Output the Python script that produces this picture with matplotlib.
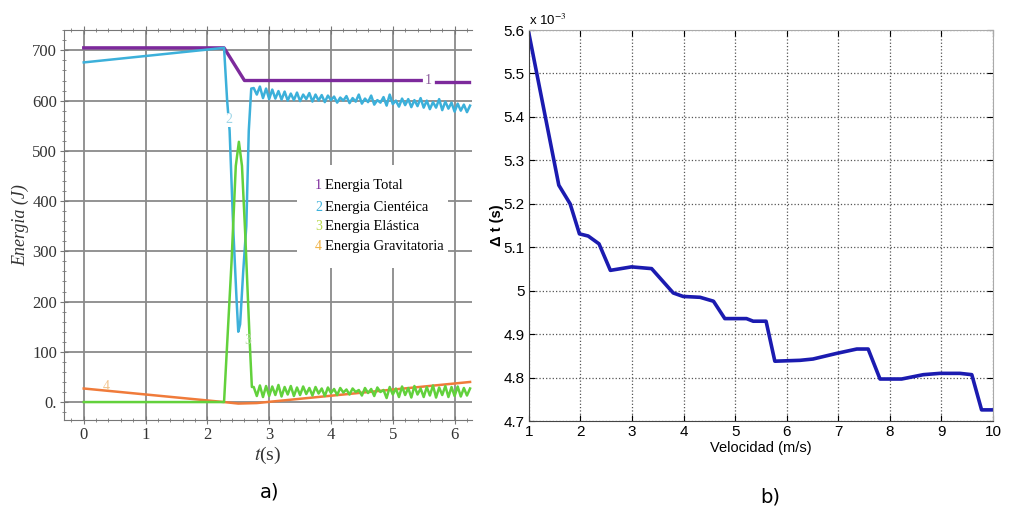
import matplotlib
matplotlib.use("Agg")
from matplotlib import pyplot as plt
from matplotlib.patches import Rectangle
from matplotlib.ticker import MultipleLocator

plt.rcParams['mathtext.fontset'] = 'stix'

# ---- panel a) energies vs time ----
t_total = [0, 2.27, 2.6, 5.46]
e_total = [705, 705, 640, 640]
t_total_end = [5.7, 6.23]
e_total_end = [638, 638]

t_kin = [0, 2.27, 2.32, 2.36, 2.42, 2.47, 2.5, 2.53, 2.58, 2.63, 2.67, 2.71,
         2.75, 2.80, 2.85, 2.90, 2.95, 3.00, 3.05, 3.10, 3.15, 3.20, 3.25, 3.30,
         3.35, 3.40, 3.45, 3.50, 3.55, 3.60, 3.65, 3.70, 3.75, 3.80, 3.85, 3.90,
         3.95, 4.00, 4.05, 4.10, 4.15, 4.20, 4.25, 4.30, 4.35, 4.40, 4.45, 4.50,
         4.55, 4.60, 4.65, 4.70, 4.75, 4.80, 4.85, 4.90, 4.95, 5.00, 5.05, 5.10,
         5.15, 5.20, 5.25, 5.30, 5.35, 5.40, 5.45, 5.50, 5.55, 5.60, 5.65, 5.70,
         5.75, 5.80, 5.85, 5.90, 5.95, 6.00, 6.05, 6.10, 6.15, 6.20, 6.25]
e_kin = [676, 705, 600, 540, 342, 210, 140, 155, 260, 350, 540, 624,
         625, 612, 628, 605, 624, 603, 622, 604, 619, 602, 618, 600,
         614, 601, 616, 599, 612, 603, 615, 598, 612, 600, 611, 597,
         610, 601, 608, 596, 606, 600, 609, 595, 605, 598, 612, 594,
         604, 597, 610, 592, 601, 596, 607, 590, 612, 593, 600, 588,
         604, 591, 603, 587, 601, 589, 605, 586, 600, 583, 597, 586,
         603, 581, 598, 584, 596, 578, 594, 580, 592, 577, 590]

t_ela = [0, 2.27, 2.39, 2.46, 2.51, 2.56, 2.61, 2.69, 2.72,
         2.75, 2.80, 2.85, 2.90, 2.95, 3.00, 3.05, 3.10, 3.15, 3.20, 3.25, 3.30,
         3.35, 3.40, 3.45, 3.50, 3.55, 3.60, 3.65, 3.70, 3.75, 3.80, 3.85, 3.90,
         3.95, 4.00, 4.05, 4.10, 4.15, 4.20, 4.25, 4.30, 4.35, 4.40, 4.45, 4.50,
         4.55, 4.60, 4.65, 4.70, 4.75, 4.80, 4.85, 4.90, 4.95, 5.00, 5.05, 5.10,
         5.15, 5.20, 5.25, 5.30, 5.35, 5.40, 5.45, 5.50, 5.55, 5.60, 5.65, 5.70,
         5.75, 5.80, 5.85, 5.90, 5.95, 6.00, 6.05, 6.10, 6.15, 6.20, 6.25]
e_ela = [0, 0, 276, 470, 518, 470, 342, 107, 30,
         30, 12, 33, 10, 32, 12, 31, 14, 34, 11, 30, 15,
         32, 12, 29, 14, 31, 16, 28, 13, 30, 17, 27, 12,
         29, 18, 26, 14, 28, 19, 25, 15, 27, 20, 24, 13,
         28, 18, 26, 12, 29, 20, 24, 8, 30, 15, 27, 10,
         31, 14, 28, 9, 32, 15, 27, 10, 30, 13, 33, 9,
         29, 14, 32, 10, 30, 12, 31, 11, 28, 13, 27]

t_grav = [0, 2.27, 2.5, 2.8, 6.25]
e_grav = [27, 0, -3, -2, 40]

legend_labels = ['Energia Total', 'Energia Cientéica', 'Energia Elástica',
                 'Energia Gravitatoria']

# ---- panel b) delta t vs speed (x 10^-3 s) ----
vel = [1.0, 1.58, 1.8, 1.98, 2.15, 2.36, 2.58, 2.99, 3.38, 3.8, 3.99, 4.32,
       4.58, 4.8, 5.22, 5.35, 5.6, 5.77, 6.26, 6.51, 6.97, 7.36, 7.58, 7.81,
       8.23, 8.65, 8.97, 9.36, 9.59, 9.78, 10.0]
dt = [5.592, 5.243, 5.2, 5.131, 5.126, 5.108, 5.047, 5.055, 5.051, 4.995,
      4.987, 4.985, 4.976, 4.936, 4.936, 4.93, 4.93, 4.838, 4.84, 4.843,
      4.856, 4.866, 4.866, 4.797, 4.797, 4.807, 4.81, 4.81, 4.807, 4.726,
      4.726]

purple = '#7d2a9c'
cyan = '#3cb0da'
green = '#62d13c'
orange = '#f07b3a'

fig = plt.figure(figsize=(10.25, 5.13), dpi=100)

ax1 = fig.add_axes([0.0624, 0.181, 0.398, 0.760])
ax1.set_axisbelow(True)
ax1.grid(True, color='#8a8a8a', lw=1.3)
# white block behind the legend texts, hides the grid like in the original
ax1.add_patch(Rectangle((3.45, 266), 2.44, 205, facecolor='white',
                        edgecolor='none', zorder=1))
ax1.plot(t_total, e_total, color=purple, lw=2.4, zorder=3)
ax1.plot(t_total_end, e_total_end, color=purple, lw=2.4, zorder=3)
ax1.plot(t_kin, e_kin, color=cyan, lw=1.8, zorder=3)
ax1.plot(t_grav, e_grav, color=orange, lw=1.8, zorder=3)
ax1.plot(t_ela, e_ela, color=green, lw=1.8, zorder=3)

ax1.text(5.58, 640, '1', color='#8a5a9a', fontsize=10, family='Liberation Serif',
         ha='center', va='center', zorder=4)
ax1.text(2.34, 562, '2', color='#9fd6e8', fontsize=10, family='Liberation Serif',
         ha='center', va='center', zorder=4,
         bbox=dict(facecolor='white', edgecolor='none', pad=0.5))
ax1.text(2.66, 123, '3', color='#b5d9a0', fontsize=10, family='Liberation Serif',
         ha='center', va='center', zorder=4)
ax1.text(0.36, 30, '4', color='#f2c28a', fontsize=10, family='Liberation Serif',
         ha='center', va='center', zorder=4)

num_colors = [purple, cyan, '#b7d84a', '#f0b040']
leg_y = [432, 388, 349, 309]
for i in range(4):
    ax1.text(3.74, leg_y[i], str(i + 1), color=num_colors[i], fontsize=10,
             family='Liberation Serif', va='center', zorder=4)
    ax1.text(3.9, leg_y[i], legend_labels[i], color='black', fontsize=10.5,
             family='Liberation Serif', va='center', zorder=4)

ax1.set_xlim(-0.32, 6.28)
ax1.set_ylim(-36, 740)
ax1.set_xticks([0, 1, 2, 3, 4, 5, 6])
ax1.set_yticks([0, 100, 200, 300, 400, 500, 600, 700])
ax1.set_yticklabels(['0.', '100', '200', '300', '400', '500', '600', '700'])
ax1.xaxis.set_minor_locator(MultipleLocator(0.2))
ax1.yaxis.set_minor_locator(MultipleLocator(20))
ax1.tick_params(which='both', direction='inout', color='#777777', labelsize=12,
                top=True, labelcolor='#333333', pad=2)
ax1.tick_params(which='major', length=6)
ax1.tick_params(which='minor', length=3)
for lab in ax1.get_xticklabels() + ax1.get_yticklabels():
    lab.set_family('Liberation Serif')
for s in ['left', 'bottom', 'top']:
    ax1.spines[s].set_color('#777777')
ax1.spines['right'].set_visible(False)
ax1.set_xlabel(r'$t$(s)', fontsize=14, labelpad=1, color='#333333',
               family='Liberation Serif')
ax1.set_ylabel('Energia (J)', fontsize=13, style='italic',
               family='Liberation Serif', labelpad=2, color='#333333')

ax2 = fig.add_axes([0.516, 0.179, 0.4527, 0.7625])
ax2.plot(vel, dt, color='#1b1bb0', lw=2.6)
ax2.set_xlim(1, 10)
ax2.set_ylim(4.7, 5.6)
ax2.set_xticks(range(1, 11))
ax2.set_yticks([4.7, 4.8, 4.9, 5.0, 5.1, 5.2, 5.3, 5.4, 5.5, 5.6])
ax2.set_yticklabels(['4.7', '4.8', '4.9', '5', '5.1', '5.2', '5.3', '5.4',
                     '5.5', '5.6'])
ax2.grid(True, ls=':', color='#555555', lw=0.9)
ax2.tick_params(direction='in', labelsize=11, length=4, pad=3,
                top=True, right=True)
for lab in ax2.get_xticklabels() + ax2.get_yticklabels():
    lab.set_family('Liberation Sans')
for s in ['top', 'right']:
    ax2.spines[s].set_color('#aaaaaa')
for s in ['left', 'bottom']:
    ax2.spines[s].set_color('#444444')
ax2.set_xlabel('Velocidad (m/s)', fontsize=10.5, family='Liberation Sans',
               labelpad=1)
ax2.set_ylabel('Δ t (s)', fontsize=10.5, family='Liberation Sans',
               fontweight='bold', labelpad=0)
ax2.text(0.0, 1.005, r'x 10$^{-3}$', transform=ax2.transAxes, fontsize=9.5,
         family='Liberation Sans', ha='left', va='bottom')

fig.text(270 / 1025, 1 - 492 / 513, 'a)', fontsize=14, ha='center', va='center')
fig.text(770 / 1025, 1 - 497 / 513, 'b)', fontsize=14, ha='center', va='center')

fig.savefig('out.png', dpi=100)
